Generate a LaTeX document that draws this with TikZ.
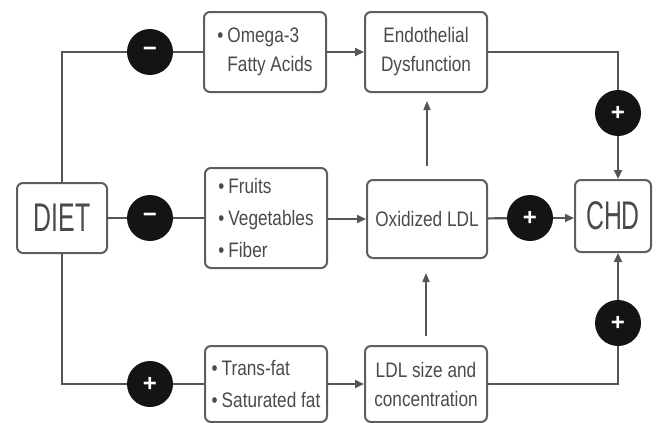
\documentclass[tikz,border=0pt]{standalone}
\usepackage{fontspec}
\setmainfont{Liberation Sans}
\newfontfamily\boxfont[FakeStretch=0.82]{Liberation Sans}
\newfontfamily\bigfont[FakeStretch=0.62]{Liberation Sans}
\newfontfamily\signfont{Liberation Sans}
\usetikzlibrary{arrows.meta}
\definecolor{ln}{HTML}{555555}
\definecolor{tx}{HTML}{4A4A4A}
\definecolor{bd}{HTML}{5E5E5E}
\begin{document}
\begin{tikzpicture}[x=1pt,y=-1pt,
  box/.style={draw=bd, line width=2pt, rounded corners=6pt, text=tx, inner sep=0pt,
    font=\boxfont\fontsize{21}{29}\selectfont},
  bigbox/.style={draw=bd, line width=2pt, rounded corners=6pt, text=tx, inner sep=0pt,
    font=\bigfont\fontsize{40}{44}\selectfont},
  sign/.style={circle, fill=black!92, minimum size=46pt, inner sep=0pt, text=white,
    font=\signfont\bfseries\fontsize{24}{24}\selectfont},
  conn/.style={draw=ln, line width=2.2pt},
  arr/.style={conn, -{Triangle[length=9pt,width=8pt]}},
  varr/.style={draw=ln, line width=1.6pt, -{Triangle[length=9pt,width=7pt]}}
]
\useasboundingbox (0,0) rectangle (656,423);
% boxes
\node[bigbox, minimum width=90pt, minimum height=70pt] (diet) at (62,218) {DIET};
\node[box, minimum width=122pt, minimum height=80pt, align=left] (omega) at (265,52)
  {•\hspace{4pt}Omega-3\\\hphantom{•}\hspace{4pt}Fatty Acids};
\node[box, minimum width=122pt, minimum height=100pt, align=left,
  font=\boxfont\fontsize{21}{32}\selectfont] (fruits) at (266,218)
  {•\hspace{4pt}Fruits\\•\hspace{4pt}Vegetables\\•\hspace{4pt}Fiber};
\node[box, minimum width=122pt, minimum height=76pt, align=left,
  font=\boxfont\fontsize{21}{32}\selectfont] (trans) at (266,384)
  {•\hspace{4pt}Trans-fat\\•\hspace{4pt}Saturated fat};
\node[box, minimum width=122pt, minimum height=80pt, align=center] (endo) at (426,52)
  {Endothelial\\Dysfunction};
\node[box, minimum width=120pt, minimum height=78pt, align=center] (oxld) at (427,219)
  {Oxidized LDL};
\node[box, minimum width=122pt, minimum height=76pt, align=center] (ldls) at (426,384)
  {LDL size and\\concentration};
\node[bigbox, minimum width=76pt, minimum height=72pt] (chd) at (613,216) {CHD};
% signs
\node[sign] (s1) at (150,52) {−};
\node[sign] (s2) at (150,218) {−};
\node[sign] (s3) at (150,384) {+};
\node[sign] (s4) at (530,218) {+};
\node[sign] (s5) at (618,113) {+};
\node[sign] (s6) at (618,323) {+};
% connectors
\draw[conn] (diet.north) |- (s1);
\draw[conn] (s1) -- (omega);
\draw[conn] (diet) -- (s2);
\draw[conn] (s2) -- (fruits);
\draw[conn] (diet.south) |- (s3);
\draw[conn] (s3) -- (trans);
\draw[arr] (omega) -- (endo);
\draw[arr] (fruits.east |- oxld) -- (oxld);
\draw[arr] (trans) -- (ldls);
\draw[conn] (oxld) -- (s4);
\draw[arr] (s4) -- (s4 -| chd.west);
\draw[conn] (endo) -| (s5);
\draw[arr] (s5) -- (s5 |- chd.north);
\draw[conn] (ldls) -| (s6);
\draw[arr] (s6) -- (s6 |- chd.south);
\draw[varr, shorten <=13pt, shorten >=8pt] (oxld.north) -- (oxld.north |- endo.south);
\draw[varr, shorten <=9pt, shorten >=14pt] (ldls.north) -- (ldls.north |- oxld.south);
\end{tikzpicture}
\end{document}
